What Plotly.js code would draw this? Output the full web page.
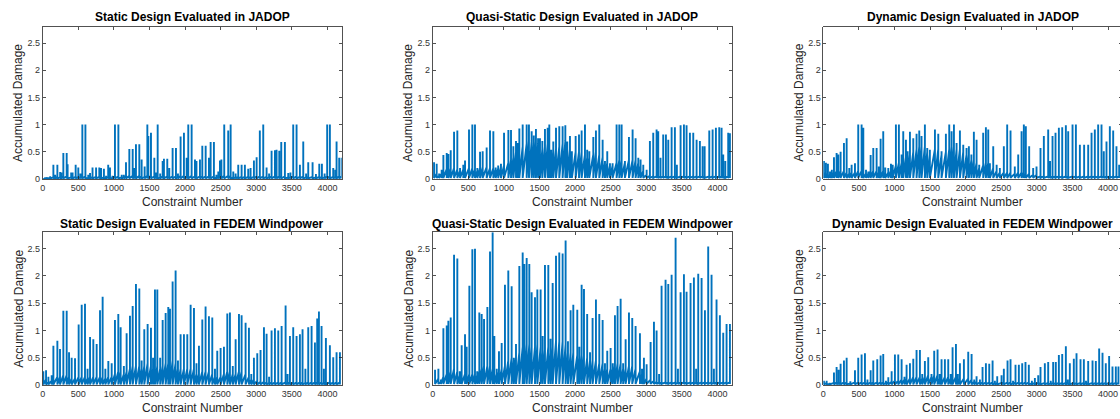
<!DOCTYPE html>
<html>
<head>
<meta charset="utf-8">
<script src="https://cdn.plot.ly/plotly-3.0.1.min.js"></script>
<style>
html,body{margin:0;padding:0;background:#fff;overflow:hidden;width:1120px;height:419px;}
#chart{width:1130px;height:419px;}
</style>
</head>
<body>
<div id="chart"></div>
<script>
// ---------- DATA ----------
// Each panel: constraint numbers of the spikes, the spike peak values,
// the upper level of the dense band just before each spike, and the floor value.

const staticJadopX = [20,60,105,150,175,206,245,262,290,337,350,400,420,463,500,530,557,600,640,665,700,750,795,820,860,890,920,945,980,1015,1063,1110,1140,1170,1217,1264,1290,1310,1357,1390,1432,1470,1484,1521,1568,1590,1615,1625,1650,1685,1703,1750,1778,1825,1872,1900,1937,1984,2022,2045,2092,2139,2160,2209,2242,2289,2335,2359,2405,2440,2467,2490,2510,2550,2606,2640,2677,2710,2747,2794,2840,2887,2920,2967,3005,3050,3098,3145,3180,3215,3262,3285,3323,3351,3402,3449,3480,3519,3566,3613,3660,3700,3730,3791,3838,3885,3922,3960,3996,4034,4081,4110,4128,4165,4200];
const staticJadopPeak = [0.02,0.03,0.05,0.26,0.08,0.26,0.13,0.12,0.48,0.48,0.27,0.12,0.12,0.26,0.21,0.1,1.0,1.0,0.08,0.11,0.21,0.21,0.21,0.2,0.19,0.06,0.26,0.21,0.06,1.0,1.0,0.08,0.08,0.31,0.55,0.55,0.2,0.64,0.64,0.36,0.23,1.0,0.79,0.85,0.39,0.12,1.0,0.46,0.1,0.33,0.37,0.37,0.2,0.57,0.57,0.1,0.78,0.85,0.39,1.0,1.0,0.36,0.33,0.36,0.61,0.61,0.39,0.68,0.68,0.08,0.14,0.34,0.36,1.0,0.89,1.0,0.14,0.1,0.26,0.26,0.26,0.19,0.2,0.34,0.4,0.89,1.0,0.21,0.1,0.52,0.53,0.54,0.52,0.68,0.68,0.11,0.12,1.0,1.0,0.26,0.69,0.1,0.31,0.31,0.09,0.28,0.28,0.1,1.0,1.0,0.2,0.17,0.69,0.39,0.39];
const staticJadopBand = [0.01,0.02,0.02,0.03,0.03,0.04,0.03,0.03,0.05,0.05,0.03,0.03,0.03,0.04,0.04,0.03,0.05,0.05,0.02,0.03,0.04,0.04,0.04,0.04,0.03,0.02,0.04,0.04,0.02,0.05,0.05,0.03,0.03,0.05,0.06,0.06,0.04,0.06,0.06,0.05,0.04,0.06,0.06,0.06,0.05,0.03,0.06,0.05,0.03,0.05,0.05,0.05,0.04,0.05,0.05,0.03,0.06,0.06,0.05,0.06,0.06,0.05,0.04,0.05,0.05,0.05,0.05,0.05,0.05,0.03,0.03,0.04,0.04,0.06,0.06,0.06,0.03,0.03,0.04,0.04,0.04,0.04,0.04,0.04,0.05,0.05,0.05,0.04,0.03,0.05,0.05,0.05,0.05,0.05,0.05,0.03,0.03,0.05,0.05,0.04,0.05,0.03,0.04,0.04,0.03,0.04,0.04,0.03,0.05,0.05,0.04,0.04,0.05,0.05,0.05];
const staticJadopFloor = 0.01;

const quasiJadopX = [19,56,90,126,150,197,220,253,300,346,384,430,454,510,557,594,627,665,702,758,805,852,885,920,959,1002,1063,1100,1133,1170,1195,1217,1264,1320,1352,1390,1420,1450,1480,1507,1540,1577,1615,1638,1665,1694,1732,1778,1825,1863,1890,1928,1955,2008,2055,2092,2139,2170,2200,2256,2293,2340,2387,2420,2452,2490,2527,2583,2621,2654,2700,2757,2808,2850,2888,2920,2958,3005,3051,3098,3145,3168,3200,3238,3276,3309,3356,3402,3430,3482,3529,3566,3613,3660,3707,3753,3791,3820,3885,3932,3978,4025,4058,4081,4110,4151,4175];
const quasiJadopPeak = [0.31,0.28,0.1,0.17,0.44,0.48,0.46,0.53,0.87,0.89,0.2,0.26,0.34,0.91,1.0,1.0,0.2,0.5,0.51,0.58,0.89,0.88,0.21,0.25,0.28,0.85,0.9,0.9,0.6,0.7,0.66,0.93,1.0,1.0,1.0,0.88,0.8,0.92,0.75,0.75,0.7,0.92,0.94,1.0,0.54,0.69,0.94,0.97,0.97,0.99,0.69,0.79,0.51,0.79,0.82,0.89,1.0,0.54,0.51,0.77,0.89,1.0,0.72,0.33,0.51,0.29,0.29,1.0,1.0,1.0,0.33,0.77,0.91,0.75,0.39,0.36,0.26,0.17,0.7,0.85,0.91,0.88,0.39,0.82,0.82,0.72,0.95,0.95,0.26,0.99,1.0,0.99,0.85,0.85,0.72,0.7,0.6,0.6,0.89,0.91,0.94,0.95,0.94,0.45,0.33,0.85,0.84];
const quasiJadopBand = [0.12,0.1,0.06,0.1,0.15,0.18,0.2,0.2,0.2,0.18,0.15,0.18,0.2,0.2,0.2,0.18,0.15,0.2,0.22,0.22,0.2,0.2,0.18,0.2,0.22,0.25,0.3,0.35,0.4,0.5,0.5,0.55,0.6,0.65,0.7,0.7,0.65,0.7,0.65,0.6,0.55,0.6,0.65,0.6,0.45,0.5,0.55,0.6,0.65,0.7,0.6,0.55,0.45,0.5,0.5,0.5,0.45,0.4,0.4,0.45,0.5,0.45,0.4,0.3,0.3,0.25,0.25,0.3,0.35,0.35,0.3,0.35,0.35,0.35,0.3,0.25,0.15,0.08,0.06,0.05,0.05,0.05,0.05,0.05,0.05,0.05,0.05,0.05,0.04,0.05,0.05,0.05,0.05,0.05,0.05,0.05,0.05,0.05,0.05,0.05,0.05,0.05,0.05,0.05,0.05,0.05,0.05];
const quasiJadopFloor = 0.02;

const dynamicJadopX = [9,37,65,94,120,150,187,210,243,290,328,365,398,445,491,538,562,600,632,665,702,749,780,805,842,870,913,950,975,1020,1062,1100,1123,1161,1185,1217,1264,1310,1348,1380,1427,1460,1497,1568,1615,1661,1722,1769,1802,1835,1872,1919,1966,2012,2045,2080,2115,2153,2190,2246,2284,2317,2340,2387,2435,2480,2536,2583,2630,2690,2738,2785,2817,2845,2892,2948,2995,3051,3098,3159,3185,3220,3262,3309,3356,3407,3440,3501,3548,3604,3664,3721,3768,3814,3861,3908,3940,3978,4025,4072,4118,4156];
const dynamicJadopPeak = [0.33,0.3,0.28,0.14,0.17,0.4,0.48,0.45,0.5,0.66,0.75,0.2,0.26,0.29,1.0,1.0,0.94,0.17,0.14,0.44,0.57,0.57,0.23,0.74,0.88,0.21,0.2,0.28,0.26,1.0,1.0,0.45,0.88,0.72,0.51,0.87,0.75,0.83,0.89,0.79,1.0,0.57,0.54,0.91,0.83,0.51,0.83,1.0,0.88,1.0,0.66,0.89,0.63,0.57,0.6,0.45,0.87,0.72,0.26,0.85,0.95,0.91,0.29,0.6,0.26,0.2,0.6,1.0,0.89,0.23,0.45,0.88,1.0,0.97,0.6,0.2,0.23,0.57,0.79,0.91,0.33,0.79,0.85,0.94,0.95,0.99,0.88,1.0,1.0,0.63,0.63,0.63,0.85,0.91,1.0,1.0,0.51,0.69,0.97,0.89,0.6,0.26];
const dynamicJadopBand = [0.12,0.12,0.1,0.08,0.1,0.12,0.15,0.15,0.15,0.15,0.12,0.1,0.12,0.12,0.15,0.15,0.12,0.1,0.1,0.15,0.15,0.15,0.12,0.15,0.15,0.12,0.12,0.15,0.15,0.25,0.3,0.3,0.35,0.4,0.4,0.45,0.5,0.55,0.6,0.6,0.6,0.5,0.45,0.55,0.55,0.45,0.5,0.55,0.6,0.6,0.55,0.55,0.5,0.45,0.45,0.35,0.35,0.3,0.2,0.25,0.3,0.3,0.2,0.2,0.15,0.12,0.12,0.12,0.12,0.1,0.12,0.12,0.12,0.1,0.1,0.08,0.08,0.05,0.05,0.05,0.05,0.05,0.05,0.05,0.05,0.05,0.05,0.05,0.05,0.05,0.05,0.05,0.05,0.05,0.05,0.05,0.05,0.05,0.05,0.05,0.05,0.05];
const dynamicJadopFloor = 0.02;

const staticFedemX = [9,47,80,126,150,206,243,290,337,370,407,454,505,548,594,630,665,711,758,805,842,880,922,969,1015,1062,1095,1140,1179,1226,1264,1310,1357,1390,1427,1474,1521,1550,1577,1610,1650,1685,1727,1764,1788,1825,1867,1900,1937,1984,2031,2078,2125,2160,2195,2242,2288,2335,2382,2420,2452,2499,2546,2593,2630,2670,2710,2757,2794,2850,2897,2930,2967,3014,3060,3108,3145,3180,3215,3262,3309,3356,3412,3440,3473,3519,3566,3613,3650,3690,3730,3777,3824,3856,3880,3917,3950,3978,4034,4081,4128,4175];
const staticFedemPeak = [0.25,0.27,0.15,0.18,0.72,0.81,0.66,1.36,1.36,0.6,0.5,0.49,1.11,1.47,1.49,0.3,0.88,0.84,0.75,1.37,1.62,0.3,0.44,0.4,1.19,1.3,1.06,0.35,0.95,1.27,1.45,1.85,1.77,0.45,1.02,1.12,1.05,0.5,1.75,1.75,0.5,1.19,1.32,1.43,1.4,1.9,2.1,0.45,0.93,0.93,0.93,1.47,1.41,0.4,0.72,1.2,1.44,1.26,1.24,0.3,0.63,0.68,0.7,1.31,1.33,0.35,0.84,1.3,1.28,1.14,1.05,0.2,0.5,0.58,0.64,1.06,0.94,0.15,1.0,1.04,1.0,1.08,1.46,0.2,0.9,1.06,0.9,0.93,1.02,0.3,1.06,1.08,0.78,1.22,1.35,1.08,0.3,0.86,0.73,0.51,0.6,0.6];
const staticFedemBand = [0.1,0.1,0.05,0.08,0.12,0.15,0.15,0.18,0.18,0.15,0.12,0.12,0.15,0.15,0.15,0.12,0.15,0.15,0.15,0.15,0.15,0.12,0.15,0.15,0.2,0.25,0.25,0.2,0.25,0.3,0.35,0.35,0.35,0.3,0.35,0.4,0.35,0.3,0.35,0.35,0.3,0.35,0.4,0.4,0.4,0.45,0.4,0.3,0.3,0.3,0.3,0.3,0.3,0.2,0.2,0.25,0.25,0.25,0.2,0.15,0.15,0.15,0.2,0.25,0.25,0.2,0.2,0.25,0.25,0.2,0.15,0.1,0.1,0.08,0.06,0.06,0.05,0.04,0.05,0.05,0.05,0.05,0.05,0.04,0.05,0.05,0.05,0.05,0.05,0.04,0.05,0.05,0.05,0.05,0.05,0.05,0.04,0.05,0.05,0.05,0.05,0.05];
const staticFedemFloor = 0.01;

const quasiFedemX = [33,80,115,150,197,220,253,300,346,380,407,454,477,515,557,594,625,655,688,721,768,805,842,866,900,931,969,1015,1062,1109,1140,1170,1217,1264,1287,1320,1357,1390,1437,1470,1516,1545,1577,1624,1655,1685,1732,1778,1825,1867,1900,1937,1975,2031,2060,2092,2125,2170,2210,2246,2293,2340,2387,2420,2452,2499,2530,2560,2597,2640,2675,2710,2757,2803,2850,2911,2940,2967,3005,3061,3108,3145,3180,3215,3271,3309,3356,3412,3445,3482,3529,3566,3622,3669,3700,3730,3777,3824,3870,3917,3950,3987,4034,4081,4128,4175];
const quasiFedemPeak = [0.28,0.3,0.1,1.04,1.09,1.18,1.24,2.39,2.32,0.25,0.73,0.93,0.7,1.82,2.49,2.5,0.25,1.33,1.3,1.21,1.43,2.45,2.8,0.9,0.3,0.62,0.77,1.84,2.1,1.81,0.5,0.75,2.18,2.43,2.22,2.33,2.22,1.7,1.61,1.75,1.75,0.9,2.2,2.2,0.85,1.87,2.37,2.43,2.41,2.65,0.8,1.37,1.47,1.38,0.7,1.84,1.76,1.3,0.6,1.23,1.57,1.3,1.19,0.4,0.63,0.68,0.4,1.28,1.45,1.58,0.4,0.84,1.33,1.23,1.08,0.95,0.3,0.5,0.38,0.79,1.16,1.0,0.2,1.82,1.93,1.85,2.02,2.7,0.3,1.7,2.03,1.71,1.87,1.97,0.3,2.04,1.96,1.37,2.54,2.02,0.3,1.57,1.28,0.96,1.12,1.12];
const quasiFedemBand = [0.12,0.12,0.06,0.15,0.2,0.25,0.25,0.3,0.25,0.18,0.2,0.2,0.2,0.2,0.2,0.2,0.18,0.25,0.3,0.35,0.35,0.35,0.3,0.25,0.2,0.25,0.3,0.35,0.45,0.5,0.45,0.5,0.6,0.7,0.7,0.75,0.75,0.7,0.7,0.75,0.7,0.6,0.65,0.7,0.6,0.7,0.8,0.8,0.8,0.75,0.6,0.6,0.6,0.55,0.5,0.55,0.55,0.5,0.45,0.45,0.45,0.4,0.4,0.3,0.3,0.3,0.3,0.35,0.4,0.4,0.3,0.3,0.35,0.35,0.3,0.25,0.2,0.15,0.12,0.1,0.08,0.06,0.05,0.05,0.05,0.05,0.05,0.05,0.04,0.05,0.05,0.05,0.05,0.05,0.04,0.05,0.05,0.05,0.05,0.05,0.04,0.05,0.05,0.05,0.05,0.05];
const quasiFedemFloor = 0.02;

const dynamicFedemX = [9,47,90,150,187,215,243,290,328,380,445,491,538,585,620,665,702,758,805,842,880,913,960,1006,1053,1100,1140,1170,1217,1264,1310,1357,1390,1427,1474,1520,1558,1605,1635,1661,1708,1755,1790,1816,1863,1890,1919,1975,2036,2083,2120,2153,2200,2237,2284,2331,2378,2410,2443,2504,2536,2588,2630,2665,2700,2747,2794,2840,2887,2930,2972,3019,3051,3112,3159,3195,3229,3266,3309,3356,3407,3435,3463,3519,3557,3613,3660,3690,3721,3782,3828,3875,3922,3968,4015,4062,4109,4146];
const dynamicFedemPeak = [0.08,0.08,0.04,0.23,0.33,0.28,0.39,0.45,0.5,0.07,0.27,0.5,0.56,0.58,0.1,0.27,0.45,0.47,0.54,0.57,0.08,0.14,0.25,0.56,0.56,0.47,0.15,0.37,0.4,0.48,0.64,0.64,0.2,0.44,0.51,0.2,0.63,0.65,0.2,0.47,0.47,0.47,0.2,0.69,0.75,0.2,0.4,0.47,0.61,0.57,0.1,0.16,0.1,0.33,0.4,0.39,0.45,0.08,0.16,0.18,0.3,0.45,0.47,0.08,0.37,0.37,0.4,0.42,0.37,0.08,0.13,0.18,0.33,0.4,0.42,0.08,0.42,0.42,0.55,0.57,0.71,0.1,0.4,0.48,0.58,0.47,0.47,0.08,0.44,0.45,0.44,0.67,0.59,0.4,0.53,0.34,0.34,0.34];
const dynamicFedemBand = [0.04,0.04,0.02,0.04,0.05,0.05,0.05,0.05,0.05,0.03,0.05,0.05,0.05,0.05,0.04,0.05,0.05,0.05,0.05,0.05,0.04,0.05,0.06,0.08,0.08,0.1,0.1,0.12,0.12,0.15,0.15,0.15,0.12,0.15,0.18,0.15,0.18,0.18,0.12,0.15,0.15,0.15,0.12,0.15,0.15,0.12,0.12,0.12,0.12,0.1,0.06,0.06,0.05,0.05,0.05,0.05,0.05,0.03,0.04,0.04,0.05,0.05,0.05,0.03,0.05,0.05,0.05,0.05,0.05,0.03,0.04,0.04,0.04,0.04,0.04,0.03,0.04,0.04,0.04,0.04,0.04,0.03,0.04,0.04,0.04,0.04,0.04,0.03,0.04,0.04,0.04,0.04,0.04,0.04,0.04,0.04,0.04,0.04];
const dynamicFedemFloor = 0.01;

const panelTitles = [
  'Static Design Evaluated in JADOP',
  'Quasi-Static Design Evaluated in JADOP',
  'Dynamic Design Evaluated in JADOP',
  'Static Design Evaluated in FEDEM Windpower',
  'Quasi-Static Design Evaluated in FEDEM Windpower',
  'Dynamic Design Evaluated in FEDEM Windpower'
];
const xTickVals = [0,500,1000,1500,2000,2500,3000,3500,4000];
const yTickVals = [0,0.5,1,1.5,2,2.5];
const yTickText = ['0','0.5','1','1.5','2','2.5'];
const xLabel = 'Constraint Number';
const yLabel = 'Accumulated Damage';

// ---------- BUILD ----------
const W = 1130, H = 419;
const FONT = 'Liberation Sans, Arial, Helvetica, sans-serif';
const BLUE = '#0072BD';
const AX = '#262626';

const panels = [
  [staticJadopX, staticJadopPeak, staticJadopBand, staticJadopFloor],
  [quasiJadopX, quasiJadopPeak, quasiJadopBand, quasiJadopFloor],
  [dynamicJadopX, dynamicJadopPeak, dynamicJadopBand, dynamicJadopFloor],
  [staticFedemX, staticFedemPeak, staticFedemBand, staticFedemFloor],
  [quasiFedemX, quasiFedemPeak, quasiFedemBand, quasiFedemFloor],
  [dynamicFedemX, dynamicFedemPeak, dynamicFedemBand, dynamicFedemFloor]
];

// pixel boxes of the plot areas
const colL = [42.7, 432.7, 823.3];
const plotW = 299;
const rowT = [26.7, 232.3];
const rowB = [179, 385];

const traces = [];
const layout = {
  width: W, height: H,
  margin: {l:0, r:0, t:0, b:0},
  paper_bgcolor: '#fff', plot_bgcolor: '#fff',
  showlegend: false,
  font: {family: FONT, color: AX},
  annotations: []
};

panels.forEach((p, k) => {
  const [xs, ps, bs, z] = p;
  const n = Math.min(xs.length, ps.length, bs.length);
  const X = [], Y = [];
  for (let i = 0; i < n; i++) {
    X.push(xs[i], xs[i], xs[i]);
    Y.push(bs[i], ps[i], z);
  }
  const idx = k + 1;
  const xa = 'x' + (idx === 1 ? '' : idx);
  const ya = 'y' + (idx === 1 ? '' : idx);
  traces.push({
    type: 'scatter', mode: 'lines', x: X, y: Y,
    xaxis: xa, yaxis: ya,
    line: {color: BLUE, width: 1.9},
    hoverinfo: 'skip'
  });
  const col = k % 3, row = Math.floor(k / 3);
  const l = colL[col], r = l + plotW, t = rowT[row], b = rowB[row];
  const xKey = 'xaxis' + (idx === 1 ? '' : idx);
  const yKey = 'yaxis' + (idx === 1 ? '' : idx);
  layout[xKey] = {
    domain: [l / W, r / W], anchor: ya,
    range: [0, 4200], tickvals: xTickVals,
    ticks: 'inside', ticklen: 3, tickwidth: 0.8, tickcolor: AX,
    showline: true, mirror: 'ticks', linecolor: AX, linewidth: 0.8,
    showgrid: false, zeroline: false, fixedrange: true,
    tickfont: {size: 9, color: '#333', family: FONT}
  };
  layout[yKey] = {
    domain: [1 - b / H, 1 - t / H], anchor: xa,
    range: [0, 2.8], tickvals: yTickVals, ticktext: yTickText,
    ticks: 'inside', ticklen: 3, tickwidth: 0.8, tickcolor: AX,
    showline: true, mirror: 'ticks', linecolor: AX, linewidth: 0.8,
    showgrid: false, zeroline: false, fixedrange: true,
    tickfont: {size: 9, color: '#333', family: FONT}
  };
  const cx = (l + r) / 2;
  layout.annotations.push({
    text: '<b>' + panelTitles[k] + '</b>', xref: 'paper', yref: 'paper',
    x: cx / W, y: 1 - (row === 0 ? 17 : 223.5) / H,
    xanchor: 'center', yanchor: 'middle', showarrow: false,
    font: {size: 12, color: '#000', family: FONT}
  });
  layout.annotations.push({
    text: xLabel, xref: 'paper', yref: 'paper',
    x: cx / W, y: 1 - (b + 22.5) / H,
    xanchor: 'center', yanchor: 'middle', showarrow: false,
    font: {size: 12, color: AX, family: FONT}
  });
  layout.annotations.push({
    text: yLabel, xref: 'paper', yref: 'paper', textangle: -90,
    x: (l - 24.5) / W, y: 1 - ((t + b) / 2) / H,
    xanchor: 'center', yanchor: 'middle', showarrow: false,
    font: {size: 12, color: AX, family: FONT}
  });
});

Plotly.newPlot('chart', traces, layout, {staticPlot: true, displayModeBar: false});
</script>
</body>
</html>
